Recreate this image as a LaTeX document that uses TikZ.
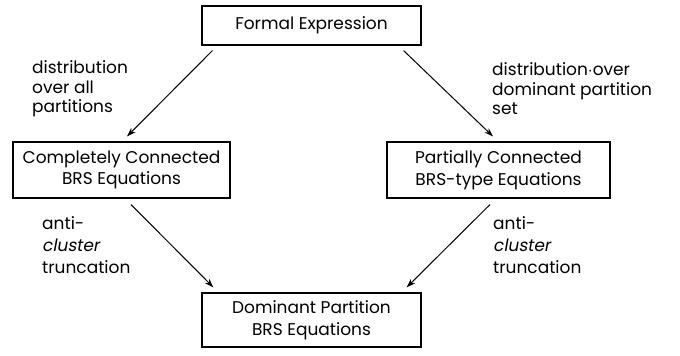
\documentclass[tikz,border=0pt]{standalone}
\usepackage{fontspec}
\setmainfont{Poppins}
\newfontfamily\slantfont[FakeSlant=0.18]{Poppins}
\usetikzlibrary{arrows.meta,calc}
\begin{document}
\begin{tikzpicture}[x=1pt,y=-1pt,
  box/.style={draw,line width=1.1pt,inner sep=0pt,align=center,
    font=\fontsize{17}{21.5}\selectfont},
  lbl/.style={inner sep=0pt,align=left,anchor=west,
    font=\fontsize{17}{19.5}\selectfont},
  arr/.style={line width=1pt,-{Stealth[length=9pt,width=6pt]}}]
\useasboundingbox (0,0) rectangle (680,356);
\node[box,minimum width=219pt,minimum height=39pt] (top) at (311.5,25.5) {Formal Expression};
\node[box,minimum width=217pt,minimum height=56pt] (left) at (121.5,170) {Completely Connected\\BRS Equations};
\node[box,minimum width=223pt,minimum height=56pt] (right) at (498.5,170) {Partially Connected\\BRS-type Equations};
\node[box,minimum width=219pt,minimum height=54pt] (bot) at (311.5,320) {Dominant Partition\\BRS Equations};
\draw[arr] ($(top.south west)+(11,5)$) -- ($(left.north)+(5.5,-5)$);
\draw[arr] ($(top.south east)+(-18,5)$) -- ($(right.north)+(-5.5,-5)$);
\draw[arr] ($(left.south)+(9.5,6)$) -- ($(bot.north west)+(12,-5)$);
\draw[arr] ($(right.south)+(-8.5,6)$) -- ($(bot.north east)+(-15,-5)$);
\node[lbl] (l1) at (32,89) {distribution\\over all\\partitions};
\node[lbl] (l2) at (492,89) {distribution$\cdot$over\\dominant partition\\set};
\node[lbl,font=\fontsize{17}{22}\selectfont] (l3) at (42,245) {anti-\\{\slantfont cluster}\\truncation};
\node[lbl,font=\fontsize{17}{22}\selectfont] (l4) at (493,245) {anti-\\{\slantfont cluster}\\truncation};
\end{tikzpicture}
\end{document}
